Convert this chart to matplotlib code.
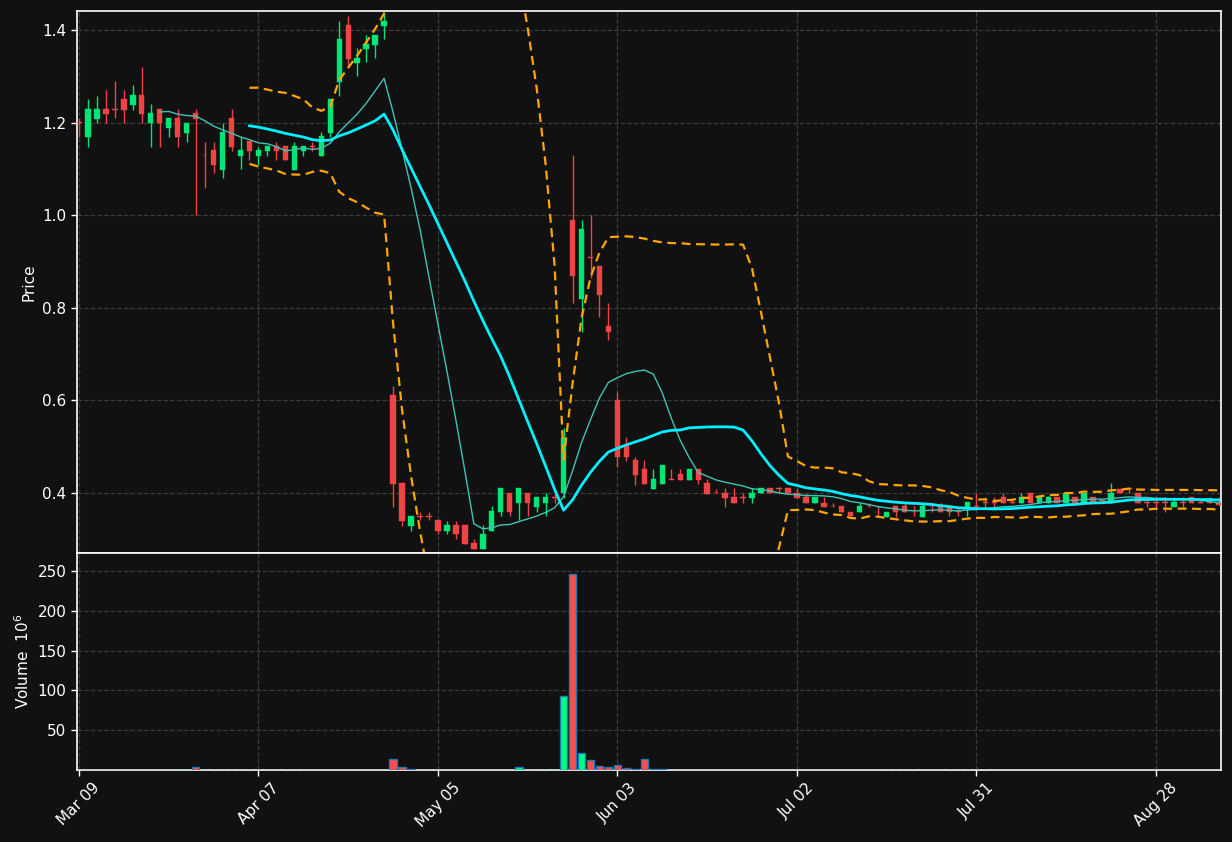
import numpy as np
import pandas as pd
import matplotlib
matplotlib.use("Agg")
import matplotlib.pyplot as plt

# ---------------- data ----------------
opens = [1.201, 1.169, 1.208, 1.229, 1.230, 1.251, 1.238, 1.260, 1.199, 1.229,
         1.188, 1.210, 1.178, 1.221, 1.131, 1.141, 1.098, 1.210, 1.128, 1.160,
         1.128, 1.139, 1.149, 1.149, 1.098, 1.139, 1.150, 1.128, 1.178, 1.288,
         1.411, 1.329, 1.359, 1.368, 1.409, 0.612, 0.422, 0.329, 0.351, 0.351,
         0.342, 0.318, 0.331, 0.331, 0.292, 0.279, 0.318, 0.359, 0.400, 0.378,
         0.400, 0.370, 0.378, 0.392, 0.400, 0.990, 0.820, 0.910, 0.890, 0.761,
         0.601, 0.502, 0.471, 0.452, 0.409, 0.420, 0.431, 0.441, 0.428, 0.452,
         0.422, 0.401, 0.400, 0.391, 0.392, 0.389, 0.400, 0.411, 0.411, 0.411,
         0.400, 0.391, 0.378, 0.378, 0.373, 0.372, 0.359, 0.359, 0.373, 0.360,
         0.348, 0.372, 0.372, 0.360, 0.348, 0.373, 0.372, 0.370, 0.361, 0.370,
         0.371, 0.381, 0.381, 0.391, 0.381, 0.378, 0.400, 0.378, 0.378, 0.391,
         0.378, 0.391, 0.378, 0.391, 0.384, 0.378, 0.409, 0.410, 0.400, 0.381,
         0.381, 0.381, 0.370, 0.381, 0.391, 0.381, 0.381, 0.379]
highs = [1.210, 1.251, 1.257, 1.270, 1.290, 1.270, 1.281, 1.320, 1.240, 1.229,
         1.210, 1.229, 1.200, 1.229, 1.158, 1.158, 1.199, 1.229, 1.169, 1.160,
         1.147, 1.149, 1.158, 1.149, 1.158, 1.149, 1.158, 1.180, 1.251, 1.419,
         1.430, 1.361, 1.389, 1.389, 1.437, 0.631, 0.422, 0.350, 0.359, 0.359,
         0.342, 0.340, 0.340, 0.331, 0.301, 0.331, 0.372, 0.411, 0.400, 0.411,
         0.400, 0.391, 0.400, 0.402, 0.540, 1.130, 0.990, 1.000, 0.890, 0.810,
         0.619, 0.521, 0.478, 0.471, 0.452, 0.460, 0.452, 0.452, 0.452, 0.452,
         0.430, 0.409, 0.411, 0.411, 0.400, 0.411, 0.411, 0.411, 0.412, 0.411,
         0.411, 0.400, 0.391, 0.391, 0.378, 0.372, 0.359, 0.378, 0.378, 0.372,
         0.359, 0.372, 0.378, 0.372, 0.378, 0.378, 0.378, 0.370, 0.370, 0.380,
         0.400, 0.391, 0.391, 0.400, 0.385, 0.400, 0.400, 0.391, 0.393, 0.391,
         0.400, 0.391, 0.400, 0.391, 0.386, 0.422, 0.409, 0.410, 0.400, 0.386,
         0.391, 0.391, 0.391, 0.391, 0.391, 0.385, 0.391, 0.391]
lows = [1.169, 1.147, 1.200, 1.200, 1.210, 1.200, 1.227, 1.200, 1.147, 1.147,
        1.169, 1.147, 1.158, 1.000, 1.059, 1.091, 1.080, 1.139, 1.100, 1.119,
        1.108, 1.128, 1.119, 1.119, 1.098, 1.128, 1.139, 1.128, 1.169, 1.257,
        1.320, 1.301, 1.331, 1.340, 1.381, 0.370, 0.329, 0.318, 0.342, 0.342,
        0.311, 0.311, 0.301, 0.290, 0.279, 0.279, 0.318, 0.350, 0.350, 0.342,
        0.350, 0.359, 0.350, 0.378, 0.390, 0.810, 0.748, 0.864, 0.780, 0.730,
        0.457, 0.469, 0.418, 0.420, 0.409, 0.420, 0.430, 0.428, 0.428, 0.420,
        0.398, 0.399, 0.370, 0.378, 0.378, 0.378, 0.400, 0.400, 0.400, 0.400,
        0.389, 0.378, 0.378, 0.370, 0.370, 0.359, 0.350, 0.359, 0.370, 0.350,
        0.348, 0.348, 0.359, 0.350, 0.348, 0.359, 0.359, 0.350, 0.350, 0.350,
        0.363, 0.370, 0.370, 0.378, 0.378, 0.378, 0.378, 0.378, 0.378, 0.378,
        0.378, 0.378, 0.378, 0.380, 0.380, 0.378, 0.400, 0.400, 0.378, 0.370,
        0.370, 0.360, 0.370, 0.370, 0.378, 0.378, 0.378, 0.374]
closes = [1.199, 1.229, 1.229, 1.219, 1.228, 1.227, 1.260, 1.219, 1.221, 1.199,
          1.210, 1.169, 1.200, 1.208, 1.129, 1.108, 1.180, 1.147, 1.141, 1.139,
          1.141, 1.149, 1.139, 1.119, 1.149, 1.149, 1.148, 1.171, 1.251, 1.381,
          1.337, 1.340, 1.370, 1.389, 1.419, 0.420, 0.340, 0.350, 0.349, 0.349,
          0.318, 0.331, 0.311, 0.290, 0.279, 0.311, 0.361, 0.411, 0.359, 0.411,
          0.378, 0.391, 0.391, 0.390, 0.518, 0.869, 0.970, 0.908, 0.828, 0.748,
          0.478, 0.478, 0.439, 0.420, 0.430, 0.460, 0.429, 0.428, 0.452, 0.428,
          0.398, 0.399, 0.390, 0.378, 0.390, 0.400, 0.411, 0.400, 0.409, 0.400,
          0.389, 0.378, 0.391, 0.370, 0.371, 0.359, 0.350, 0.372, 0.371, 0.358,
          0.359, 0.359, 0.359, 0.358, 0.372, 0.371, 0.359, 0.359, 0.359, 0.380,
          0.369, 0.379, 0.379, 0.378, 0.379, 0.391, 0.378, 0.391, 0.391, 0.378,
          0.400, 0.378, 0.400, 0.380, 0.382, 0.400, 0.400, 0.408, 0.378, 0.379,
          0.379, 0.379, 0.380, 0.379, 0.378, 0.379, 0.379, 0.374]
# volume in millions
volumes = [0.15] * 128
volumes[13] = 3.3
volumes[35] = 14.0
volumes[36] = 3.3
volumes[37] = 0.9
volumes[40] = 0.6
volumes[45] = 0.5
volumes[46] = 0.5
volumes[47] = 0.5
volumes[49] = 3.3
volumes[54] = 92.9
volumes[55] = 245.8
volumes[56] = 20.8
volumes[57] = 12.1
volumes[58] = 4.6
volumes[59] = 3.3
volumes[60] = 5.8
volumes[61] = 2.1
volumes[62] = 0.8
volumes[63] = 13.3
volumes[64] = 0.8
volumes[65] = 0.8
volumes[69] = 0.6

tick_positions = [0, 20, 40, 60, 80, 100, 120]
tick_labels = ["Mar 09", "Apr 07", "May 05", "Jun 03", "Jul 02", "Jul 31", "Aug 28"]

# ---------------- styling ----------------
BG = "#111111"
UP = "#00e676"
DOWN = "#ef4444"
VUP = "#00ff80"
VDOWN = "#ff4d4d"
GRID = "#3a3a3a"

df = pd.DataFrame({"Open": opens, "High": highs, "Low": lows,
                   "Close": closes, "Volume": volumes})
x = np.arange(len(df))
up = df["Close"] >= df["Open"]
cols = np.where(up, UP, DOWN)
vcols = np.where(up, VUP, VDOWN)

ma10 = df["Close"].rolling(10).mean()
ma20 = df["Close"].rolling(20).mean()
sd20 = df["Close"].rolling(20).std()
bb_up = ma20 + 2 * sd20
bb_lo = ma20 - 2 * sd20

fig = plt.figure(figsize=(12.32, 8.42), dpi=100, facecolor=BG)
L, W = 77 / 1232, (1220.5 - 77) / 1232
ax = fig.add_axes([L, 1 - 553 / 842, W, (553 - 11) / 842])
axv = fig.add_axes([L, 1 - 770 / 842, W, (770 - 553) / 842], sharex=ax)

for a in (ax, axv):
    a.set_facecolor(BG)
    for s in a.spines.values():
        s.set_color("white")
        s.set_linewidth(1.2)
    a.tick_params(colors="white", labelsize=11, length=4, width=1)
    a.grid(True, color=GRID, linestyle="--", linewidth=0.9)
    a.set_axisbelow(True)

# candles
ax.vlines(x, df["Low"], df["High"], colors=cols, linewidth=1.0, zorder=2)
body_bottom = np.minimum(df["Open"], df["Close"])
body_h = np.maximum(np.abs(df["Close"] - df["Open"]), 0.0018)
ax.bar(x, body_h, bottom=body_bottom, width=0.6, color=cols,
       edgecolor=cols, linewidth=0.3, zorder=3)

# moving averages and bands
ax.plot(x, ma10, color="#3fc4b5", linewidth=1.0, zorder=4)
ax.plot(x, ma20, color="#00f0ff", linewidth=2.0, zorder=4)
ax.plot(x, bb_up, color="#ffa500", linewidth=1.6, linestyle=(0, (4, 2.5)), zorder=4)
ax.plot(x, bb_lo, color="#ffa500", linewidth=1.6, linestyle=(0, (4, 2.5)), zorder=4)

ax.set_ylim(0.2705, 1.441)
ax.set_xlim(-0.22, 127.2)
ax.set_yticks([0.4, 0.6, 0.8, 1.0, 1.2, 1.4])
ax.set_yticklabels(["0.4", "0.6", "0.8", "1.0", "1.2", "1.4"])
ax.set_ylabel("Price", color="white", fontsize=11)
ax.tick_params(axis="x", labelbottom=False, length=0)

# volume
axv.bar(x, df["Volume"], width=0.85, color=vcols, edgecolor="#1f77b4",
        linewidth=1.0, zorder=3)
axv.set_ylim(0, 272.5)
axv.set_yticks([50, 100, 150, 200, 250])
axv.set_ylabel("Volume  $10^6$", color="white", fontsize=11)
axv.set_xticks(tick_positions)
axv.set_xticklabels(tick_labels, rotation=45, ha="center")
ax.set_xticks(tick_positions)

fig.savefig("out.png", dpi=100, facecolor=BG)
